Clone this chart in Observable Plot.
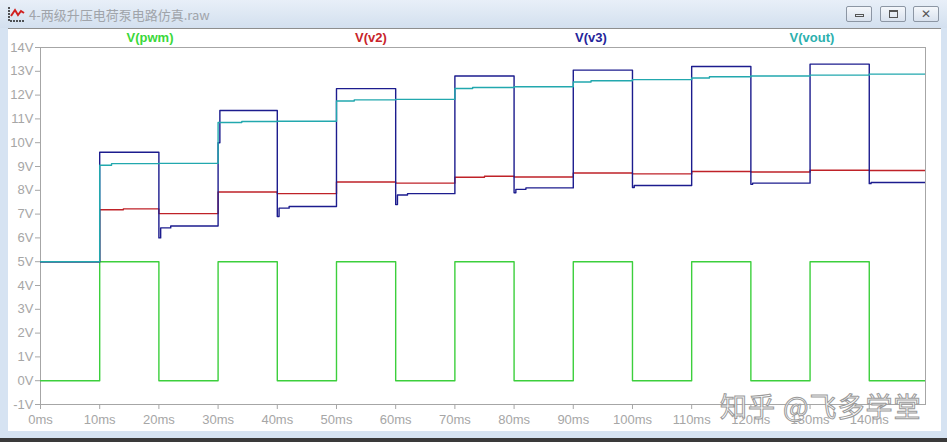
<!DOCTYPE html>
<html>
<head>
<meta charset="utf-8">
<script src="https://cdn.jsdelivr.net/npm/d3@7"></script>
<script src="https://cdn.jsdelivr.net/npm/@observablehq/plot@0.6"></script>
<style>
  html, body { margin: 0; padding: 0; background: #d8e4f2; }
  #win { position: relative; width: 947px; height: 442px; overflow: hidden;
         background: #d6e3f2; font-family: "Liberation Sans", Arial, sans-serif; }
  #titlebar { position: absolute; left: 0; top: 0; width: 947px; height: 28px;
              background: linear-gradient(#e8eff8, #d3e0ef); }
  #title { position: absolute; left: 29px; top: 5px; font-family: "Noto Sans CJK SC", sans-serif;
           font-size: 13px; color: #a0a4aa; }
  #icon { position: absolute; left: 8px; top: 6px; }
  .btn { position: absolute; top: 6px; width: 26px; height: 16px; border: 1px solid #8c96a4;
         border-radius: 2px; background: linear-gradient(#f4f7fb, #d9e2ee); box-sizing: border-box; }
  #panel { position: absolute; left: 8px; top: 28px; width: 933px; height: 403px; background: #fff;
           border-top: 1px solid #8e8e8e; box-sizing: border-box; }
  #bottombar { position: absolute; left: 0; top: 438px; width: 947px; height: 4px; background: #3a3a3a; }
  #chart { position: absolute; left: 0; top: 0; }
  .leg { position: absolute; top: 30px; font-weight: bold; font-size: 13px; transform: translateX(-50%); }
  #wm { position: absolute; left: 720px; top: 386px; font-family: "Noto Sans CJK SC", sans-serif;
        font-size: 27px; color: rgba(255,255,255,0.85); -webkit-text-stroke: 1px #9a9a9a; letter-spacing: 1px; }
</style>
</head>
<body>
<div id="win">
  <div id="titlebar">
    <svg id="icon" width="18" height="16" viewBox="0 0 18 16">
      <path d="M1 1 V15 H17" stroke="#222" stroke-width="1.5" fill="none" stroke-dasharray="2,1"/>
      <path d="M3 10 L7 4 L10 9 L13 5 L16 7" stroke="#d02020" stroke-width="2" fill="none"/>
    </svg>
    <div id="title">4-两级升压电荷泵电路仿真.raw</div>
    <div class="btn" style="left:846px"><div style="position:absolute;left:8px;top:7px;width:9px;height:3px;border:1px solid #555;box-sizing:border-box"></div></div>
    <div class="btn" style="left:880px"><div style="position:absolute;left:8px;top:3px;width:9px;height:8px;border:1px solid #555;border-top-width:2px;box-sizing:border-box"></div></div>
    <div class="btn" style="left:913px"><div style="position:absolute;left:7px;top:0px;font-size:12px;color:#555;line-height:14px">✕</div></div>
  </div>
  <div id="panel"></div>
  <div id="bottombar"></div>
  <div id="chart"></div>
  <div class="leg" style="left:150px;color:#3ad83a">V(pwm)</div>
  <div class="leg" style="left:371px;color:#c8242a">V(v2)</div>
  <div class="leg" style="left:591px;color:#24249a">V(v3)</div>
  <div class="leg" style="left:812px;color:#2cb0ae">V(vout)</div>
  <div id="wm">知乎 @飞多学堂</div>
</div>
<script>
// Tick values
const xTicks = [0, 10, 20, 30, 40, 50, 60, 70, 80, 90, 100, 110, 120, 130, 140];
const yTicks = [-1, 0, 1, 2, 3, 4, 5, 6, 7, 8, 9, 10, 11, 12, 13, 14];

// V(pwm): step-after breakpoints (ms) and values (V)
const pwmT = [0, 10, 20, 30, 40, 50, 60, 70, 80, 90, 100, 110, 120, 130, 140, 149.5];
const pwmV = [0, 5, 0, 5, 0, 5, 0, 5, 0, 5, 0, 5, 0, 5, 0, 0];

// V(v2)
const v2T = [0, 10, 14, 20, 30, 40, 50, 60, 70, 75, 80, 90, 100, 110, 120, 130, 140, 149.5];
const v2V = [5, 7.18, 7.22, 7.02, 7.93, 7.86, 8.35, 8.3, 8.55, 8.59, 8.56, 8.73, 8.69, 8.79, 8.77, 8.84, 8.83, 8.83];

// V(v3)
const v3T = [0, 10, 20, 20.3, 22, 30, 30.3, 40, 40.3, 42, 50, 60, 60.3, 62, 70, 80, 80.3, 82, 90, 100, 100.3, 110, 120, 120.3, 130, 140, 140.3, 149.5];
const v3V = [5, 9.6, 6.0, 6.42, 6.5, 10.0, 11.35, 6.9, 7.25, 7.32, 12.27, 7.4, 7.8, 7.86, 12.8, 7.9, 8.04, 8.1, 13.05, 8.12, 8.2, 13.2, 8.25, 8.3, 13.3, 8.28, 8.33, 8.33];

// V(vout)
const voutT = [0, 10, 12, 20, 30, 34, 40, 50, 53, 60, 70, 73, 80, 90, 93, 100, 110, 113, 120, 130, 140, 149.5];
const voutV = [5, 9.05, 9.12, 9.13, 10.85, 10.89, 10.9, 11.75, 11.8, 11.82, 12.28, 12.32, 12.35, 12.55, 12.6, 12.65, 12.72, 12.77, 12.8, 12.84, 12.88, 12.9];

const series = (T, V) => T.map((t, i) => ({t, v: V[i]}));
const lineOpts = (stroke) => ({x: "t", y: "v", curve: "step-after", stroke, strokeWidth: 1.4, clip: true});

const chart = Plot.plot({
  width: 947,
  height: 442,
  marginLeft: 40,
  marginRight: 22,
  marginTop: 47,
  marginBottom: 38,
  x: {domain: [0, 149.5], label: null},
  y: {domain: [-1, 14], label: null},
  style: {background: "transparent", color: "#a6a6a6", fontFamily: "'Liberation Sans', Arial, sans-serif", fontSize: "13px", overflow: "visible"},
  marks: [
    Plot.frame({stroke: "#a6a6a6"}),
    Plot.axisY({ticks: yTicks, tickFormat: d => d + "V", tickSize: 5, tickPadding: 2, stroke: "#a6a6a6", fill: "#a6a6a6", label: null}),
    Plot.axisX({ticks: xTicks, tickFormat: d => d + "ms", tickSize: 5, tickPadding: 5, stroke: "#a6a6a6", fill: "#a6a6a6", label: null}),
    Plot.line(series(pwmT, pwmV), lineOpts("#3ccf3c")),
    Plot.line(series(v2T, v2V), lineOpts("#bf2228")),
    Plot.line(series(v3T, v3V), lineOpts("#1c1c8e")),
    Plot.line(series(voutT, voutV), lineOpts("#22a8ae"))
  ]
});
document.getElementById("chart").appendChild(chart);
</script>
</body>
</html>
